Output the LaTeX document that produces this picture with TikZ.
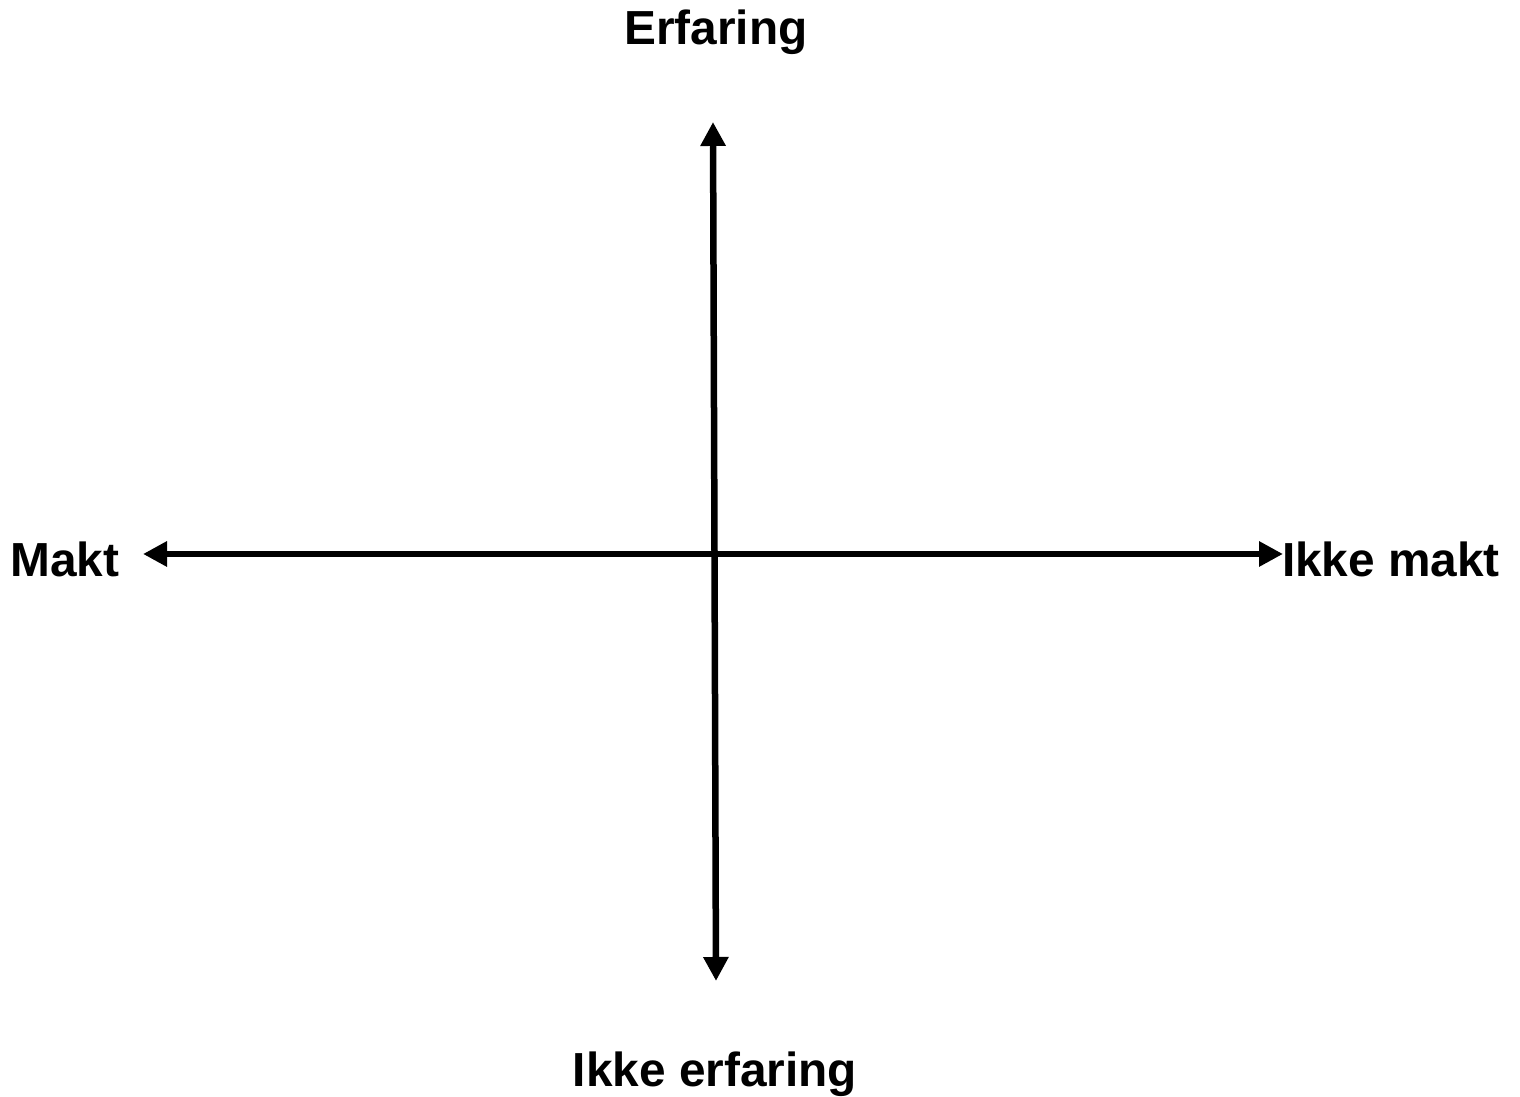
\documentclass[tikz,border=0pt]{standalone}
\usepackage{fontspec}
\setmainfont{Liberation Sans}
\usetikzlibrary{arrows.meta}

\begin{document}
\begin{tikzpicture}[>={Triangle[length=0.24cm, width=0.24cm]}, every node/.style={font=\fontsize{13.6}{16}\selectfont\bfseries, inner sep=0pt, anchor=base}]
  \useasboundingbox (0,0) rectangle (15.20,10.97);
  % axis ends
  \coordinate (top) at (7.13,9.75);
  \coordinate (bottom) at (7.16,1.16);
  \coordinate (left) at (1.43,5.43);
  \coordinate (right) at (12.83,5.43);
  \draw[<->, line width=0.065cm] (left) -- (right);
  \draw[<->, line width=0.065cm] (top) -- (bottom);
  % labels
  \node (erfaring) at (7.16,10.52) {Erfaring};
  \node (ikkeerfaring) at (7.15,0.10) {Ikke erfaring};
  \node (makt) at (0.65,5.20) {Makt};
  \node (ikkemakt) at (13.91,5.20) {Ikke makt};
\end{tikzpicture}
\end{document}
